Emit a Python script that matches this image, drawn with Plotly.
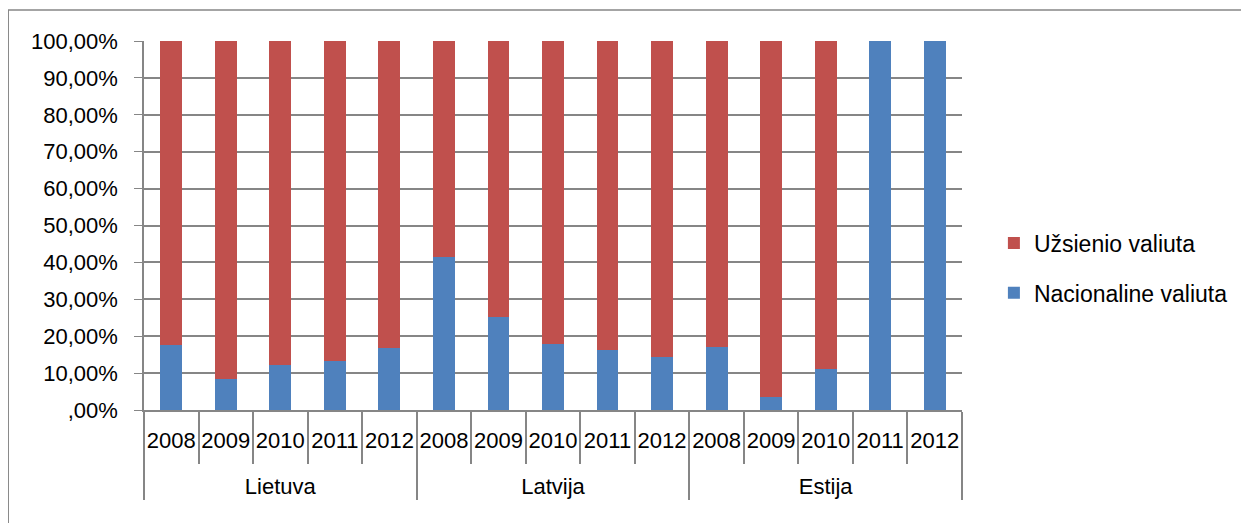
import plotly.graph_objects as go

countries = ["Lietuva"] * 5 + ["Latvija"] * 5 + ["Estija"] * 5
years = ["2008", "2009", "2010", "2011", "2012"] * 3
nacionaline = [0.176, 0.084, 0.121, 0.134, 0.168,
               0.416, 0.253, 0.179, 0.163, 0.144,
               0.171, 0.036, 0.111, 1.0, 1.0]
uzsienio = [1 - v for v in nacionaline]
y_ticks = [0, 0.1, 0.2, 0.3, 0.4, 0.5, 0.6, 0.7, 0.8, 0.9, 1.0]
y_ticktext = [",00%", "10,00%", "20,00%", "30,00%", "40,00%", "50,00%",
              "60,00%", "70,00%", "80,00%", "90,00%", "100,00%"]

# country labels carry a leading blank line so they sit lower, as in the reference
country_lbl = ["<br>" + c for c in countries]

FONT = "Liberation Sans"
fig = go.Figure()
fig.add_trace(go.Bar(x=[country_lbl, years], y=nacionaline, name="Nacionaline valiuta",
                     marker=dict(color="#4f81bd", line=dict(width=0)), legendgroup="a",
                     legendrank=2))
fig.add_trace(go.Bar(x=[country_lbl, years], y=uzsienio, name="Užsienio valiuta",
                     marker=dict(color="#c0504d", line=dict(width=0)), legendgroup="b",
                     legendrank=1))

fig.update_layout(
    barmode="stack",
    bargap=0.6,
    width=1241, height=515,
    margin=dict(l=136, r=287, t=33, b=113),
    paper_bgcolor="white", plot_bgcolor="white",
    font=dict(family=FONT, size=21, color="black"),
    showlegend=True,
    legend=dict(traceorder="grouped", tracegroupgap=17, x=1.039, y=0.385,
                xanchor="left", yanchor="middle", font=dict(size=23), itemwidth=30,
                bgcolor="rgba(0,0,0,0)"),
    xaxis=dict(type="multicategory", showline=True, linecolor="#868686", linewidth=1.5,
               ticks="outside", tickson="boundaries", ticklen=52, tickcolor="#868686",
               tickwidth=1.5, showdividers=True, dividercolor="#868686", dividerwidth=1.5,
               ticklabelstandoff=10,
               tickfont=dict(size=22), tickangle=0, showgrid=False, automargin=False),
    yaxis=dict(range=[0, 1.0], tickvals=y_ticks, ticktext=y_ticktext, showgrid=True,
               gridcolor="#868686", gridwidth=1.5, showline=True, linecolor="#868686",
               linewidth=1.5, ticks="outside", ticklen=8, tickcolor="#868686",
               ticklabelstandoff=12,
               tickfont=dict(size=22), zeroline=False, automargin=False),
)
fig.add_shape(type="rect", xref="paper", yref="paper", x0=-0.166, x1=1.5, y0=-0.5, y1=1.084,
              line=dict(color="#868686", width=1.5), fillcolor="rgba(0,0,0,0)", layer="below")
fig.write_html("out.html")
